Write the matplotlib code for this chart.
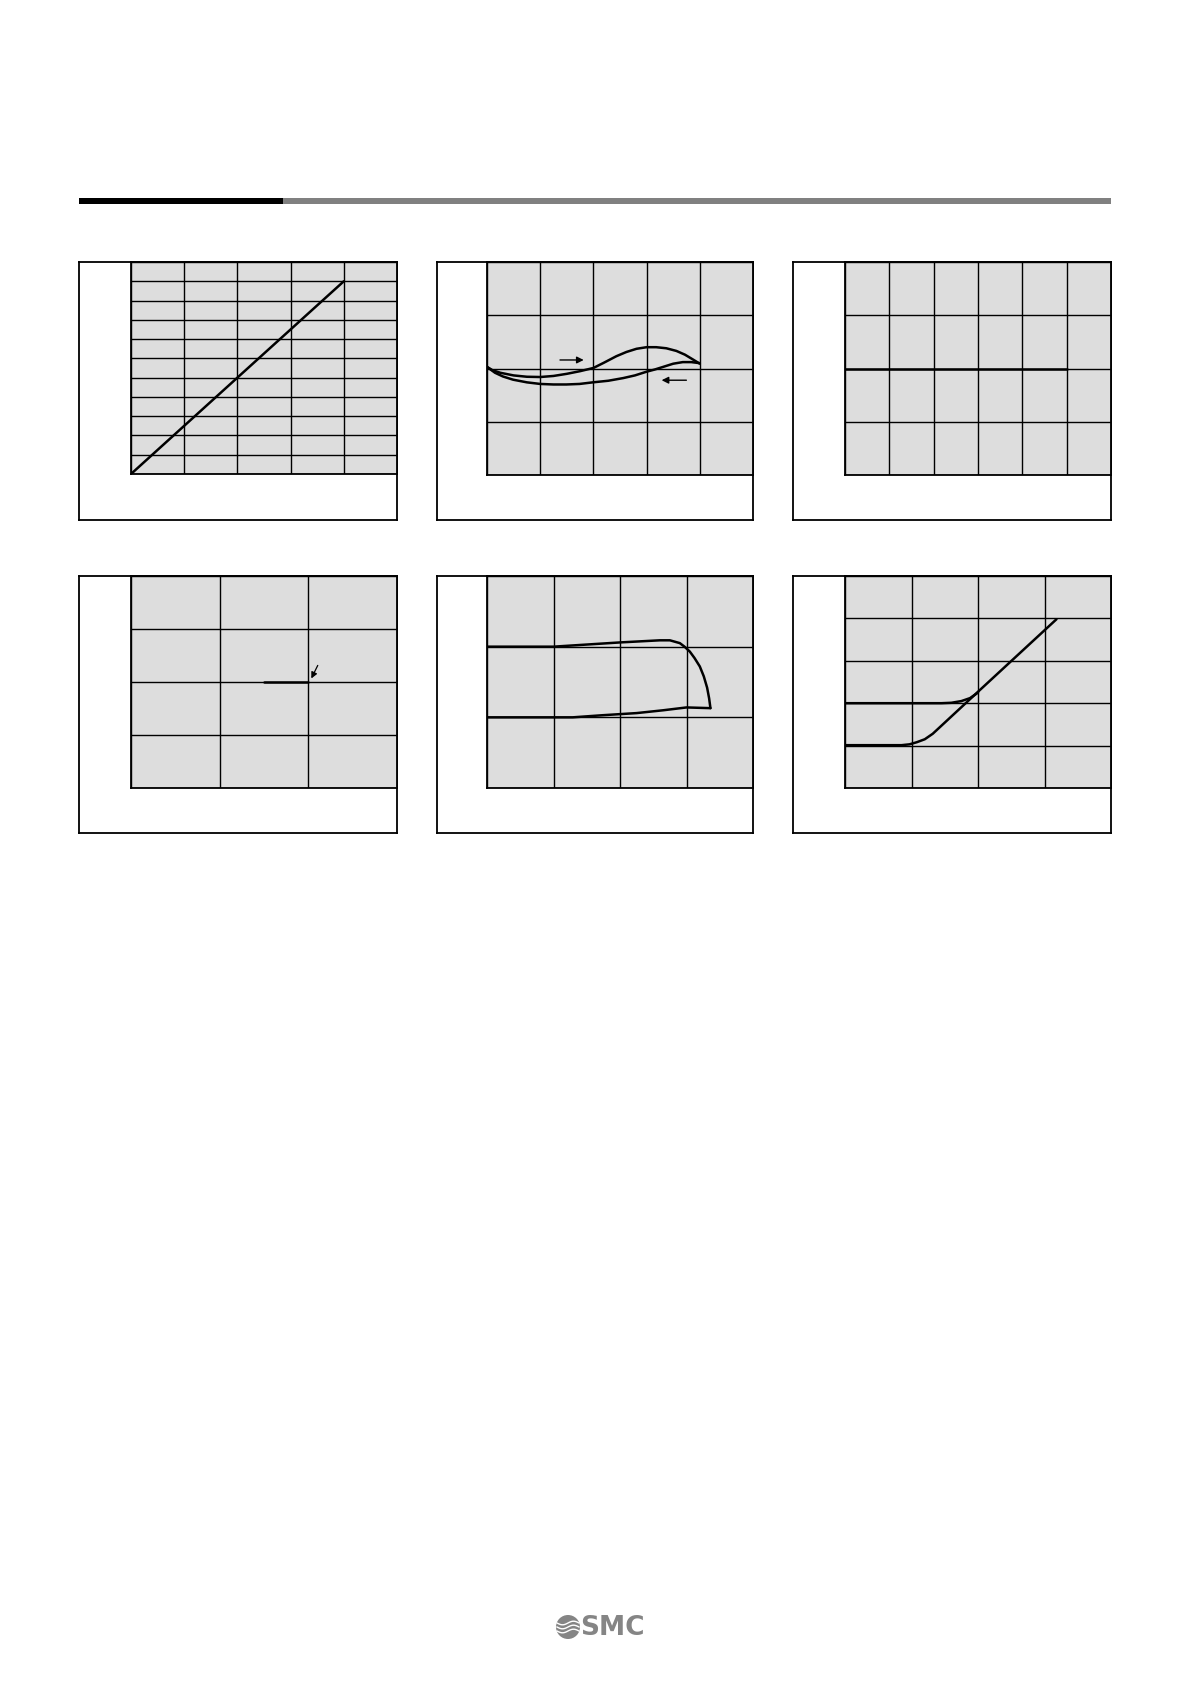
import numpy as np
import matplotlib
matplotlib.use("Agg")
import matplotlib.pyplot as plt
from matplotlib.patches import Rectangle, Circle

W, H = 1190, 1682

# ---- data (grid units) ----
p1_x = [0, 4]
p1_y = [0, 10]

p2_up_x = [0, 0.1, 0.25, 0.5, 0.75, 1.0, 1.25, 1.5, 1.75, 2.0, 2.2, 2.43, 2.62, 2.81,
           3.0, 3.18, 3.37, 3.56, 3.72, 3.87, 4.0]
p2_up_y = [2.03, 1.97, 1.92, 1.87, 1.845, 1.84, 1.86, 1.9, 1.95, 2.01, 2.11, 2.23, 2.31, 2.37,
           2.40, 2.40, 2.38, 2.33, 2.26, 2.17, 2.09]
p2_dn_x = [4.0, 3.84, 3.68, 3.5, 3.31, 3.15, 3.0, 2.78, 2.56, 2.28, 1.99, 1.74, 1.49,
           1.25, 1.0, 0.75, 0.49, 0.3, 0.15, 0]
p2_dn_y = [2.1, 2.12, 2.12, 2.09, 2.03, 1.98, 1.94, 1.87, 1.82, 1.77, 1.74, 1.71, 1.70,
           1.70, 1.71, 1.74, 1.79, 1.85, 1.92, 2.03]

p3_x = [0, 5]
p3_y = [2, 2]

p4_x = [1.5, 2.0]
p4_y = [2, 2]

p5_up_x = [0, 1.0, 2.0, 2.6, 2.75, 2.9, 2.97, 3.05, 3.12, 3.2, 3.26, 3.31, 3.34, 3.36]
p5_up_y = [2.0, 2.0, 2.06, 2.09, 2.09, 2.05, 2.0, 1.93, 1.84, 1.72, 1.58, 1.42, 1.27, 1.13]
p5_dn_x = [3.36, 3.0, 2.65, 2.25, 1.74, 1.29, 1.0, 0]
p5_dn_y = [1.13, 1.14, 1.10, 1.06, 1.03, 1.0, 1.0, 1.0]

p6_up_x = [0, 1.45, 1.6, 1.75, 1.88, 2.0]
p6_up_y = [2.0, 2.0, 2.01, 2.05, 2.12, 2.25]
p6_dn_x = [0, 0.85, 0.97, 1.08, 1.2, 1.32, 2.0, 3.18]
p6_dn_y = [1.01, 1.01, 1.03, 1.08, 1.15, 1.28, 2.27, 3.98]

fig = plt.figure(figsize=(W / 100, H / 100), dpi=100)
fig.patch.set_facecolor("white")


def ax_px(l, t, r, b, **kw):
    return fig.add_axes([l / W, 1 - b / H, (r - l) / W, (b - t) / H], **kw)


# header bars
hdr = ax_px(0, 0, W, H)
hdr.set_xlim(0, W)
hdr.set_ylim(H, 0)
hdr.axis("off")
hdr.add_patch(Rectangle((283, 198), 1111 - 283, 6, facecolor="#808080", edgecolor="none"))
hdr.add_patch(Rectangle((79, 198), 283 - 79, 6, facecolor="#000000", edgecolor="none"))

# logo
hdr.add_patch(Circle((568, 1627), 12, facecolor="#858585", edgecolor="none"))
for dy in (-4, 0, 4):
    xs = np.linspace(557, 579, 30)
    hdr.plot(xs, 1627 + dy + 1.8 * np.sin((xs - 557) / 22 * 2 * np.pi), color="white", lw=1.0)
hdr.text(580, 1628, "SMC", fontsize=19, fontweight="bold", color="#858585",
         ha="left", va="center", family="DejaVu Sans")

LW_GRID = 1.0
LW_CURVE = 1.8
FILL = "#dddddd"


def panel(box, area, ncols, nrows):
    ob = ax_px(*box)
    ob.set_xticks([])
    ob.set_yticks([])
    for s in ob.spines.values():
        s.set_linewidth(1.3)
    ax = ax_px(*area)
    ax.set_facecolor(FILL)
    ax.set_xlim(0, ncols)
    ax.set_ylim(0, nrows)
    ax.set_xticks(range(ncols + 1))
    ax.set_yticks(range(nrows + 1))
    ax.tick_params(length=0, labelbottom=False, labelleft=False)
    ax.grid(True, color="black", lw=LW_GRID)
    ax.set_axisbelow(True)
    for s in ax.spines.values():
        s.set_linewidth(1.3)
    return ax


def curve(ax, x, y):
    ax.plot(x, y, color="black", lw=LW_CURVE, solid_joinstyle="round", solid_capstyle="round")


# Row 1
a1 = panel((79, 262, 397, 520), (131, 262, 397, 474), 5, 11)
curve(a1, p1_x, p1_y)

a2 = panel((437, 262, 753, 520), (487, 262, 753, 475), 5, 4)
curve(a2, p2_up_x, p2_up_y)
curve(a2, p2_dn_x, p2_dn_y)
a2.annotate("", xy=(1.87, 2.16), xytext=(1.32, 2.16),
            arrowprops=dict(arrowstyle="-|>", color="black", lw=1.0, mutation_scale=10))
a2.annotate("", xy=(3.23, 1.78), xytext=(3.8, 1.78),
            arrowprops=dict(arrowstyle="-|>", color="black", lw=1.0, mutation_scale=10))

a3 = panel((793, 262, 1111, 520), (845, 262, 1111, 475), 6, 4)
curve(a3, p3_x, p3_y)

# Row 2
a4 = panel((79, 576, 397, 833), (131, 576, 397, 788), 3, 4)
curve(a4, p4_x, p4_y)
a4.annotate("", xy=(2.02, 2.02), xytext=(2.12, 2.36),
            arrowprops=dict(arrowstyle="-|>", color="black", lw=0.9, mutation_scale=9))

a5 = panel((437, 576, 753, 833), (487, 576, 753, 788), 4, 3)
curve(a5, p5_up_x, p5_up_y)
curve(a5, p5_dn_x, p5_dn_y)

a6 = panel((793, 576, 1111, 833), (845, 576, 1111, 788), 4, 5)
curve(a6, p6_up_x, p6_up_y)
curve(a6, p6_dn_x, p6_dn_y)

fig.savefig("out.png", dpi=100, facecolor="white")
